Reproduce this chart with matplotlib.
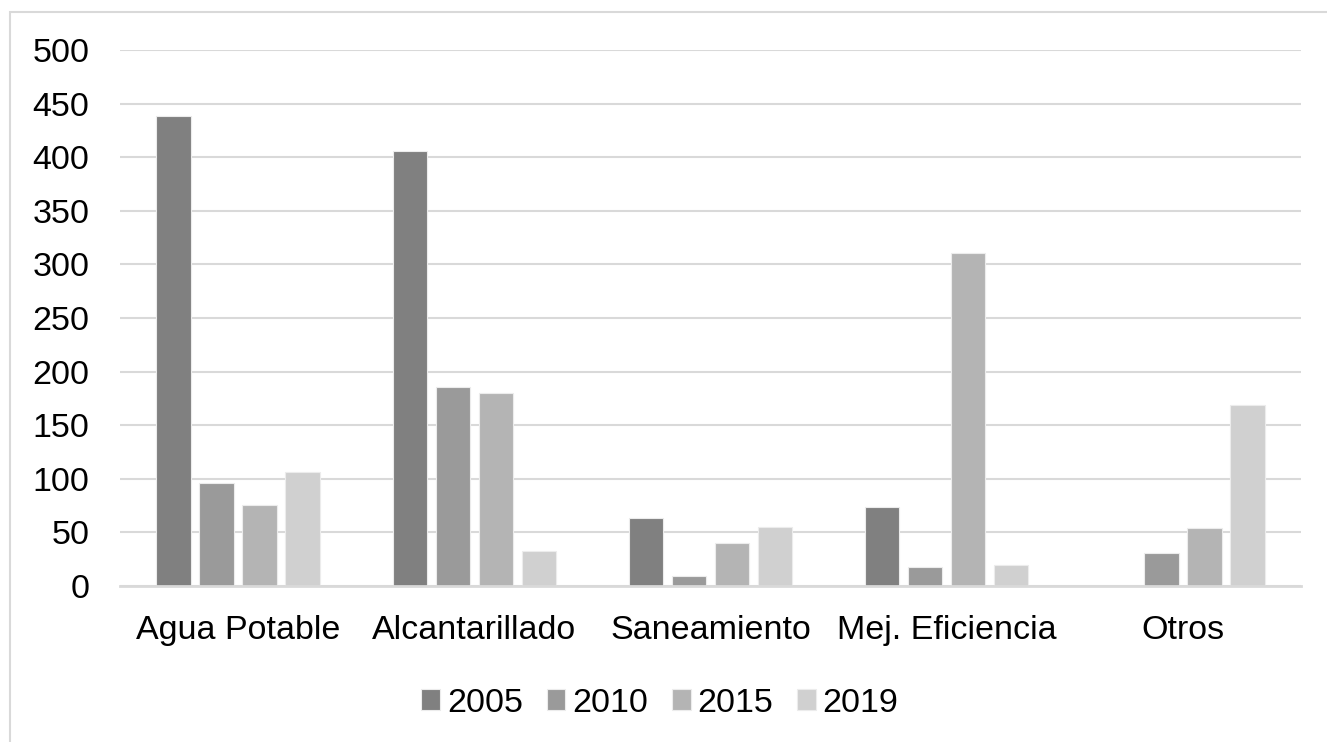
import matplotlib.pyplot as plt
import matplotlib.patches as mpatches
import numpy as np

plt.rcParams['font.family'] = ['Liberation Sans', 'DejaVu Sans']

categories = ['Agua Potable', 'Alcantarillado', 'Saneamiento', 'Mej. Eficiencia', 'Otros']
years = ['2005', '2010', '2015', '2019']
v2005 = [438, 406, 63, 74, 0]
v2010 = [96, 186, 9, 18, 31]
v2015 = [76, 180, 40, 311, 54]
v2019 = [106, 33, 55, 20, 169]
colors = ['#808080', '#9a9a9a', '#b4b4b4', '#d0d0d0']

W, H = 1327, 742
fig = plt.figure(figsize=(W / 100, H / 100), dpi=100)

# light chart-area border (only left/top edges fall inside the canvas)
fig.patches.append(mpatches.Rectangle((10 / W, -0.1), 1.2, 1 - 12 / H + 0.1,
                                      transform=fig.transFigure, fill=False,
                                      edgecolor='#d9d9d9', linewidth=1.5))

ax = fig.add_axes([120 / W, (H - 586) / H, (1301 - 120) / W, (586 - 50) / H])

x = np.arange(len(categories))
step = 0.182
width = 0.146
series = [v2005, v2010, v2015, v2019]
for i, (vals, c, yr) in enumerate(zip(series, colors, years)):
    ax.bar(x + (i - 1.5) * step, vals, width=width, color=c, edgecolor='#ececec',
           linewidth=0.8, label=yr, zorder=3)

ax.set_xlim(-0.5, len(categories) - 0.5)
ax.set_ylim(0, 500)
ax.set_yticks(np.arange(0, 501, 50))
ax.yaxis.grid(True, color='#d9d9d9', linewidth=1.5, zorder=0)
ax.set_axisbelow(True)
for s in ['top', 'right', 'left']:
    ax.spines[s].set_visible(False)
ax.spines['bottom'].set_color('#d9d9d9')
ax.spines['bottom'].set_linewidth(2)
ax.spines['bottom'].set_zorder(4)

ax.set_xticks(x)
ax.set_xticklabels(categories)
ax.tick_params(axis='y', length=0, pad=22, labelsize=24.5, colors='#000000')
ax.tick_params(axis='x', length=0, pad=21, labelsize=24.5, colors='#000000')

fig.legend(loc='center', bbox_to_anchor=(660 / W, 1 - 703 / H), ncol=4,
           frameon=False, fontsize=24.5, handlelength=0.55, handleheight=0.55,
           handletextpad=0.2, columnspacing=0.7, borderpad=0)

fig.savefig('out.png', dpi=100)
